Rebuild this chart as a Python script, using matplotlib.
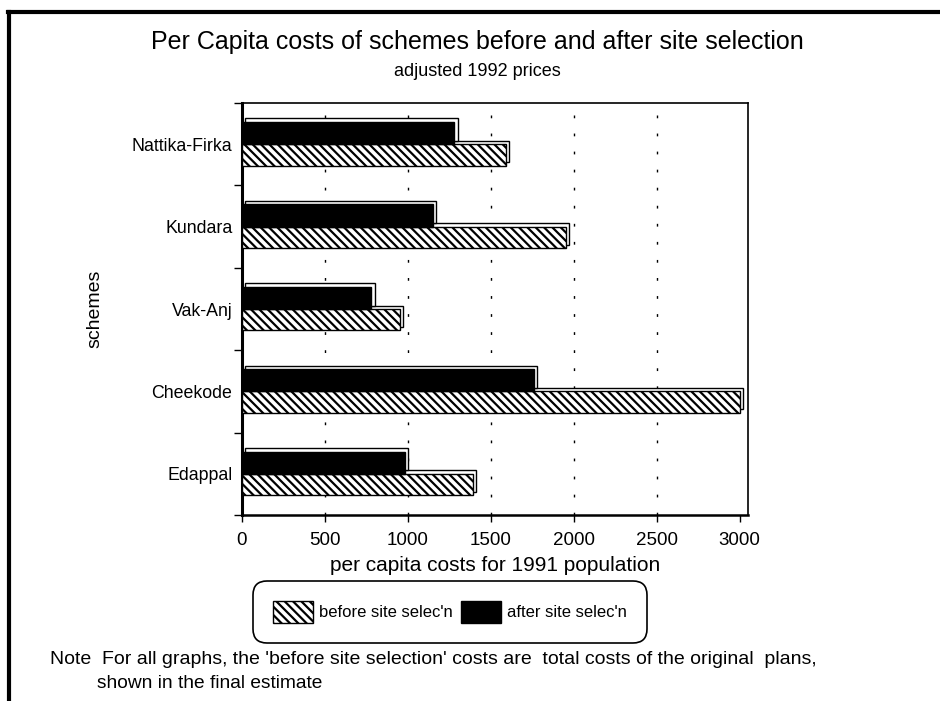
import numpy as np
import matplotlib
matplotlib.use("Agg")
import matplotlib.pyplot as plt
import matplotlib.patheffects as pe
from matplotlib.lines import Line2D
from matplotlib.patches import Patch

# per capita costs (1992 prices) by scheme, top to bottom
schemes = ["Nattika-Firka", "Kundara", "Vak-Anj", "Cheekode", "Edappal"]
before_cost = [1590, 1950, 950, 3000, 1390]
after_cost = [1280, 1150, 780, 1760, 980]
x_ticks = [0, 500, 1000, 1500, 2000, 2500, 3000]

plt.rcParams["font.family"] = ["Liberation Sans", "DejaVu Sans"]
plt.rcParams["hatch.linewidth"] = 1.6

W, H = 940, 701
fig = plt.figure(figsize=(W / 100, H / 100), dpi=100)
fig.patch.set_facecolor("white")

def fx(px):
    return px / W

def fy(py):
    return 1 - py / H

ax = fig.add_axes([fx(242), fy(515), fx(748) - fx(242), fy(103) - fy(515)])

# 3D-style depth: an offset white box behind each bar
depth = [pe.PathPatchEffect(offset=(2.5, 2.5), facecolor="white",
                            edgecolor="black", linewidth=1),
         pe.Normal()]

pos = np.arange(len(schemes))
hatched = ax.barh(pos + 0.13, before_cost, height=0.26, color="white",
                  edgecolor="black", hatch="\\\\\\\\", linewidth=1, zorder=3)
solid = ax.barh(pos - 0.135, after_cost, height=0.27, color="black",
                edgecolor="black", linewidth=1, zorder=4)
for bar in list(hatched) + list(solid):
    bar.set_path_effects(depth)

ax.set_xlim(0, 3050)
ax.set_ylim(len(schemes) - 0.5, -0.5)
ax.set_xticks(x_ticks)
ax.set_xticklabels([str(t) for t in x_ticks], fontsize=13.5)
ax.set_yticks(pos)
ax.set_yticklabels(schemes, fontsize=12.8)
ax.set_yticks(np.arange(len(schemes) + 1) - 0.5, minor=True)
ax.tick_params(axis="y", which="major", length=0, pad=7)
ax.tick_params(axis="y", which="minor", length=6, width=1, direction="out")
ax.tick_params(axis="x", length=5, width=1, direction="out", pad=7)

# sparse dotted grid
for t in x_ticks[1:-1]:
    ax.axvline(t, color="black", linewidth=1, linestyle=(0, (2, 11)), zorder=1)

for s in ax.spines.values():
    s.set_linewidth(1.2)
    s.set_color("black")
ax.spines["left"].set_linewidth(2.2)
ax.spines["bottom"].set_linewidth(1.8)

ax.set_xlabel("per capita costs for 1991 population", fontsize=15, labelpad=5)
ax.set_ylabel("schemes", fontsize=14, labelpad=20)

fig.text(fx(477), fy(42), "Per Capita costs of schemes before and after site selection",
         ha="center", va="center", fontsize=18)
fig.text(fx(477), fy(72), "adjusted 1992 prices", ha="center", va="center", fontsize=13)

handles = [Patch(facecolor="white", edgecolor="black", hatch="\\\\\\\\"),
           Patch(facecolor="black", edgecolor="black")]
leg = fig.legend(handles, ["before site selec'n", "after site selec'n"],
                 loc="center", bbox_to_anchor=(fx(450), fy(612)), ncol=2,
                 fontsize=12, frameon=True, fancybox=True, framealpha=1,
                 edgecolor="black", handlelength=2.4, handleheight=1.6,
                 handletextpad=0.35, columnspacing=0.5, borderpad=1.0)
leg.get_frame().set_linewidth(1.2)
leg.get_frame().set_boxstyle("round,pad=0.2,rounding_size=0.8")

fig.text(fx(50), fy(659),
         "Note  For all graphs, the 'before site selection' costs are  total costs of the original  plans,",
         ha="left", va="center", fontsize=14)
fig.text(fx(97), fy(684), "shown in the final estimate", ha="left", va="center", fontsize=13.8)

# page frame
fig.add_artist(Line2D([fx(8), 1], [fy(12), fy(12)], color="black", linewidth=3))
fig.add_artist(Line2D([fx(9), fx(9)], [0, fy(12)], color="black", linewidth=3))

fig.savefig("out.png", dpi=100, facecolor="white")
